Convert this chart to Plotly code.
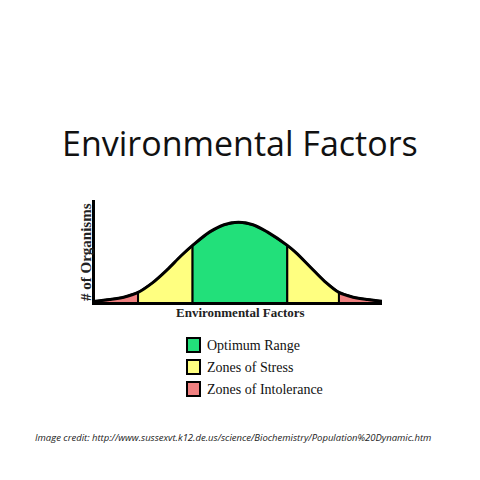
import plotly.graph_objects as go

x = [0, 5, 10, 15, 20, 25, 30, 34, 40, 45, 50, 55, 60, 67, 70, 75, 80, 85, 90, 95, 100]
y = [1, 3, 6, 12, 24, 40, 58, 71, 88, 97, 100, 97, 88, 71, 62, 44, 26, 12, 6, 3, 1]
zones = [("Zones of Intolerance", 0, 15, "#f08080"), ("Zones of Stress", 15, 34, "#ffff80"),
         ("Optimum Range", 34, 67, "#22e07a"), ("Zones of Stress", 67, 85, "#ffff80"),
         ("Zones of Intolerance", 85, 100, "#f08080")]
legend_items = [("Optimum Range", "#22e07a"), ("Zones of Stress", "#ffff80"), ("Zones of Intolerance", "#f08080")]

W = 464
def px(v):  # reference pixel -> paper x
    return (v - 8) / W
def py(v):  # reference pixel -> paper y
    return 1 - (v - 8) / W

fig = go.Figure()
for name, a, b, col in zones:
    xs = [v for v in x if a <= v <= b]
    ys = [y[x.index(v)] for v in xs]
    fig.add_trace(go.Scatter(x=[a] + xs + [b], y=[0] + ys + [0], fill="toself", fillcolor=col,
                             mode="lines", line=dict(color="black", width=2), showlegend=False, hoverinfo="skip"))
fig.add_trace(go.Scatter(x=x, y=y, mode="lines", line=dict(color="black", width=3, shape="spline"),
                         showlegend=False))

serif = "Liberation Serif"
fig.update_layout(
    width=W, height=W, margin=dict(l=0, r=0, t=0, b=0),
    paper_bgcolor="white", plot_bgcolor="white",
    xaxis=dict(domain=[px(95), px(382)], range=[0, 100], showgrid=False, zeroline=False,
               showticklabels=False, showline=True, linecolor="black", linewidth=3),
    yaxis=dict(domain=[py(302), py(200)], range=[0, 128], showgrid=False, zeroline=False,
               showticklabels=False, showline=True, linecolor="black", linewidth=3),
)
ann = [
    dict(text="Environmental Factors", x=px(240), y=py(143), font=dict(family="Open Sans", size=34, color="#111")),
    dict(text="<b># of Organisms</b>", x=px(86), y=py(252), textangle=-90, font=dict(family=serif, size=15, color="#222")),
    dict(text="<b>Environmental Factors</b>", x=px(240), y=py(312), font=dict(family=serif, size=13, color="#222")),
    dict(text="<i>Image credit: http://www.sussexvt.k12.de.us/science/Biochemistry/Population%20Dynamic.htm</i>",
         x=px(233), y=py(437), font=dict(family="Open Sans", size=9.5, color="#222")),
]
shapes = []
for i, (lab, col) in enumerate(legend_items):
    yc = 345 + i * 22
    shapes.append(dict(type="rect", xref="paper", yref="paper", x0=px(187), x1=px(200),
                       y0=py(yc + 7), y1=py(yc - 7), fillcolor=col, line=dict(color="black", width=2)))
    ann.append(dict(text=lab, x=px(205), y=py(yc), xanchor="left", font=dict(family=serif, size=14, color="#111")))
for a in ann:
    a.update(xref="paper", yref="paper", showarrow=False)
    a.setdefault("xanchor", "center")
    a["yanchor"] = "middle"
fig.update_layout(annotations=ann, shapes=shapes)
fig.write_html("out.html")
